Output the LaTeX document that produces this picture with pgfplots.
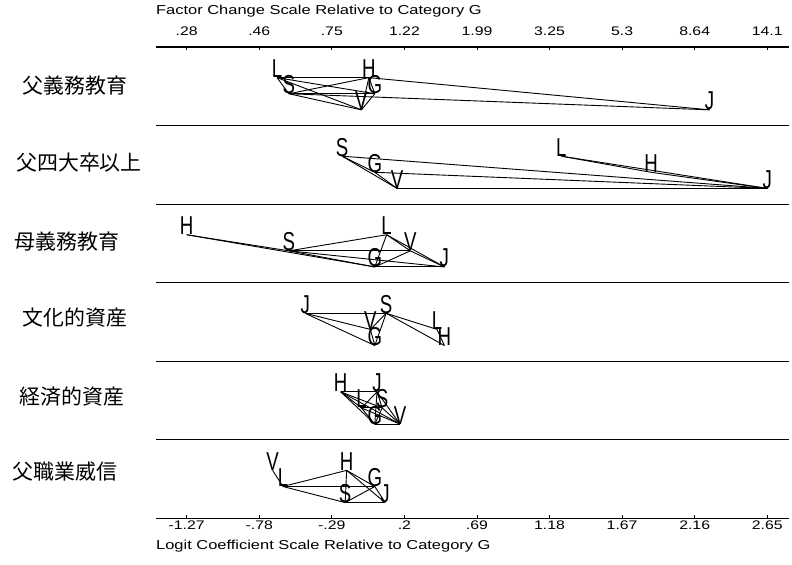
\documentclass[border=0pt]{standalone}
\usepackage{pgfplots}
\pgfplotsset{compat=1.18}
\usepackage{pgfplotstable}
\usepackage{fontspec}
\setmainfont{Liberation Sans}
\newfontfamily\cjk{Noto Sans CJK JP}
\newcommand{\sx}[1]{\scalebox{1.27}[1]{#1}}
\newcommand{\lt}[1]{\scalebox{0.72}[1]{#1}}

% letter positions: x = logit coefficient relative to G, y = row (0..6, downward)
\pgfplotstableread{
x y lab
-0.66 0.39 L
-0.58 0.595 S
-0.09 0.80 V
-0.04 0.39 H
0 0.595 G
2.26 0.80 J
-0.22 1.39 S
0 1.595 G
0.15 1.80 V
1.26 1.39 L
1.865 1.595 H
2.65 1.80 J
-1.27 2.39 H
-0.58 2.595 S
0 2.80 G
0.08 2.39 L
0.24 2.595 V
0.47 2.80 J
-0.47 3.39 J
-0.03 3.595 V
0 3.80 G
0.077 3.39 S
0.42 3.595 L
0.47 3.80 H
-0.23 4.39 H
-0.09 4.595 L
0 4.80 G
0.015 4.39 J
0.05 4.595 S
0.17 4.80 V
-0.69 5.39 V
-0.62 5.595 L
-0.20 5.80 S
-0.19 5.39 H
0 5.595 G
0.07 5.80 J
}\letters

\pgfplotsset{
  commonax/.style={
    at={(156bp,46.7bp)}, anchor=south west,
    scale only axis, width=633bp, height=471.3bp,
    xmin=-1.4773, xmax=2.7968, ymin=0, ymax=6, y dir=reverse,
    xtick={-1.27,-0.78,-0.29,0.2,0.69,1.18,1.67,2.16,2.65},
    tick align=inside, major tick length=3bp,
    tick style={black, line width=0.8bp},
  },
  seg/.style={black, line width=0.9bp, mark=none, forget plot},
}

\begin{document}
\begin{tikzpicture}
\path[use as bounding box] (0,0) rectangle (792bp,565bp);

\begin{axis}[commonax,
  clip=false,
  separate axis lines,
  x axis line style={black, line width=1.1bp},
  y axis line style={draw=none},
  xtick pos=left,
  xticklabels={\sx{-1.27},\sx{-.78},\sx{-.29},\sx{.2},\sx{.69},\sx{1.18},\sx{1.67},\sx{2.16},\sx{2.65}},
  xticklabel style={font=\fontsize{12.5}{12.5}\selectfont, yshift=1bp},
  ytick={1,2,3,4,5}, yticklabels={}, ytick style={draw=none},
  ymajorgrids, grid style={black, line width=1.1bp},
]
% axis titles
\node[anchor=west, font=\fontsize{13}{13}\selectfont, inner sep=0pt] at (axis cs:-1.4773,6.353) {\sx{Logit Coefficient Scale Relative to Category G}};
\node[anchor=west, font=\fontsize{13}{13}\selectfont, inner sep=0pt] at (axis cs:-1.4773,-0.46) {\sx{Factor Change Scale Relative to Category G}};
% row labels
\node[font=\cjk\fontsize{21}{21}\selectfont] at (axis cs:-2.024,0.497) {父義務教育};
\node[font=\cjk\fontsize{21}{21}\selectfont] at (axis cs:-1.997,1.477) {父四大卒以上};
\node[font=\cjk\fontsize{21}{21}\selectfont] at (axis cs:-2.078,2.482) {母義務教育};
\node[font=\cjk\fontsize{21}{21}\selectfont] at (axis cs:-2.024,3.45) {文化的資産};
\node[font=\cjk\fontsize{21}{21}\selectfont] at (axis cs:-2.045,4.456) {経済的資産};
\node[font=\cjk\fontsize{21}{21}\selectfont] at (axis cs:-2.092,5.41) {父職業威信};

% connecting lines: panel 1
\addplot[seg] coordinates {(-0.66,0.39) (-0.58,0.595)};
\addplot[seg] coordinates {(-0.66,0.39) (-0.09,0.80)};
\addplot[seg] coordinates {(-0.66,0.39) (-0.04,0.39)};
\addplot[seg] coordinates {(-0.66,0.39) (0,0.595)};
\addplot[seg] coordinates {(-0.58,0.595) (-0.09,0.80)};
\addplot[seg] coordinates {(-0.58,0.595) (-0.04,0.39)};
\addplot[seg] coordinates {(-0.58,0.595) (0,0.595)};
\addplot[seg] coordinates {(-0.58,0.595) (2.26,0.80)};
\addplot[seg] coordinates {(-0.09,0.80) (-0.04,0.39)};
\addplot[seg] coordinates {(-0.09,0.80) (0,0.595)};
\addplot[seg] coordinates {(-0.04,0.39) (0,0.595)};
\addplot[seg] coordinates {(-0.04,0.39) (2.26,0.80)};
% panel 2
\addplot[seg] coordinates {(-0.22,1.39) (0,1.595)};
\addplot[seg] coordinates {(-0.22,1.39) (0.15,1.80)};
\addplot[seg] coordinates {(0,1.595) (0.15,1.80)};
\addplot[seg] coordinates {(-0.22,1.39) (2.65,1.80)};
\addplot[seg] coordinates {(0,1.595) (2.65,1.80)};
\addplot[seg] coordinates {(0.15,1.80) (2.65,1.80)};
\addplot[seg] coordinates {(1.26,1.39) (1.865,1.595)};
\addplot[seg] coordinates {(1.865,1.595) (2.65,1.80)};
\addplot[seg] coordinates {(1.26,1.39) (2.65,1.80)};
% panel 3
\addplot[seg] coordinates {(-1.27,2.39) (-0.58,2.595)};
\addplot[seg] coordinates {(-1.27,2.39) (0,2.80)};
\addplot[seg] coordinates {(-0.58,2.595) (0.08,2.39)};
\addplot[seg] coordinates {(-0.58,2.595) (0.24,2.595)};
\addplot[seg] coordinates {(-0.58,2.595) (0,2.80)};
\addplot[seg] coordinates {(-0.58,2.595) (0.47,2.80)};
\addplot[seg] coordinates {(0.08,2.39) (0.24,2.595)};
\addplot[seg] coordinates {(0.08,2.39) (0,2.80)};
\addplot[seg] coordinates {(0.08,2.39) (0.47,2.80)};
\addplot[seg] coordinates {(0.24,2.595) (0,2.80)};
\addplot[seg] coordinates {(0.24,2.595) (0.47,2.80)};
\addplot[seg] coordinates {(0,2.80) (0.47,2.80)};
% panel 4
\addplot[seg] coordinates {(-0.47,3.39) (0.077,3.39)};
\addplot[seg] coordinates {(-0.47,3.39) (-0.03,3.595)};
\addplot[seg] coordinates {(-0.47,3.39) (0,3.80)};
\addplot[seg] coordinates {(-0.03,3.595) (0,3.80)};
\addplot[seg] coordinates {(-0.03,3.595) (0.077,3.39)};
\addplot[seg] coordinates {(0,3.80) (0.077,3.39)};
\addplot[seg] coordinates {(0.077,3.39) (0.42,3.595)};
\addplot[seg] coordinates {(0.077,3.39) (0.47,3.80)};
\addplot[seg] coordinates {(0.42,3.595) (0.47,3.80)};
% panel 5 (all pairs)
\addplot[seg] coordinates {(-0.23,4.39) (-0.09,4.595)};
\addplot[seg] coordinates {(-0.23,4.39) (0,4.80)};
\addplot[seg] coordinates {(-0.23,4.39) (0.015,4.39)};
\addplot[seg] coordinates {(-0.23,4.39) (0.05,4.595)};
\addplot[seg] coordinates {(-0.23,4.39) (0.17,4.80)};
\addplot[seg] coordinates {(-0.09,4.595) (0,4.80)};
\addplot[seg] coordinates {(-0.09,4.595) (0.015,4.39)};
\addplot[seg] coordinates {(-0.09,4.595) (0.05,4.595)};
\addplot[seg] coordinates {(-0.09,4.595) (0.17,4.80)};
\addplot[seg] coordinates {(0,4.80) (0.015,4.39)};
\addplot[seg] coordinates {(0,4.80) (0.05,4.595)};
\addplot[seg] coordinates {(0,4.80) (0.17,4.80)};
\addplot[seg] coordinates {(0.015,4.39) (0.05,4.595)};
\addplot[seg] coordinates {(0.015,4.39) (0.17,4.80)};
\addplot[seg] coordinates {(0.05,4.595) (0.17,4.80)};
% panel 6
\addplot[seg] coordinates {(-0.69,5.39) (-0.62,5.595)};
\addplot[seg] coordinates {(-0.62,5.595) (-0.19,5.39)};
\addplot[seg] coordinates {(-0.62,5.595) (0,5.595)};
\addplot[seg] coordinates {(-0.62,5.595) (-0.20,5.80)};
\addplot[seg] coordinates {(-0.19,5.39) (0,5.595)};
\addplot[seg] coordinates {(-0.19,5.39) (-0.20,5.80)};
\addplot[seg] coordinates {(-0.19,5.39) (0.07,5.80)};
\addplot[seg] coordinates {(0,5.595) (-0.20,5.80)};
\addplot[seg] coordinates {(0,5.595) (0.07,5.80)};
\addplot[seg] coordinates {(-0.20,5.80) (0.07,5.80)};

% category letters
\addplot[only marks, mark=none, nodes near coords={\lt{\pgfplotspointmeta}}, point meta=explicit symbolic,
  every node near coord/.append style={anchor=base, inner sep=0pt, yshift=0pt, font=\fontsize{26}{26}\selectfont}]
  table[x=x, y=y, meta=lab] {\letters};
\end{axis}

\begin{axis}[commonax,
  axis x line*=top, hide y axis,
  x axis line style={black, line width=1.1bp},
  xticklabels={\sx{.28},\sx{.46},\sx{.75},\sx{1.22},\sx{1.99},\sx{3.25},\sx{5.3},\sx{8.64},\sx{14.1}},
  xticklabel style={font=\fontsize{12.5}{12.5}\selectfont, yshift=8bp},
]
\addplot[draw=none, forget plot] coordinates {(0,0)};
\end{axis}
\end{tikzpicture}
\end{document}
